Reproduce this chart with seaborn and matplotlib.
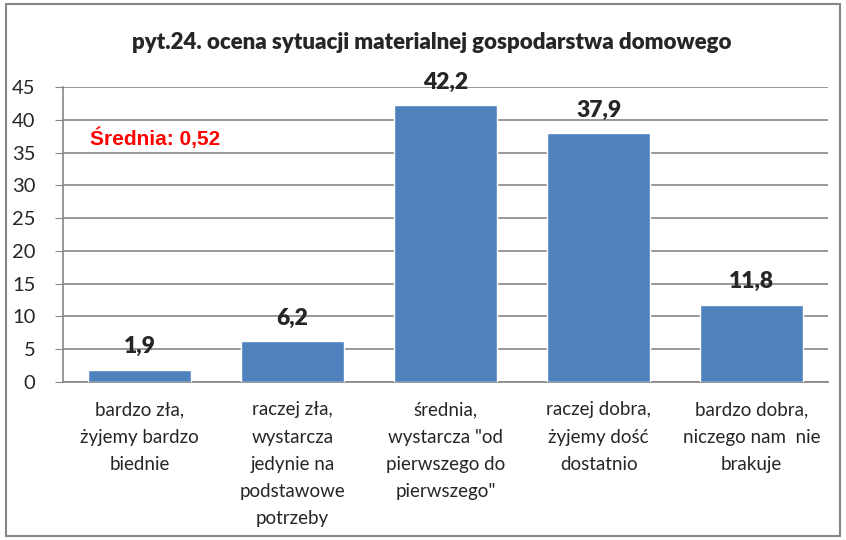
import matplotlib
matplotlib.use("Agg")
import matplotlib.pyplot as plt
import matplotlib.patches as mpatches
import seaborn as sns
import pandas as pd

categories = [
    "bardzo zła,\nżyjemy bardzo\nbiednie",
    "raczej zła,\nwystarcza\njedynie na\npodstawowe\npotrzeby",
    "średnia,\nwystarcza \"od\npierwszego do\npierwszego\"",
    "raczej dobra,\nżyjemy dość\ndostatnio",
    "bardzo dobra,\nniczego nam  nie\nbrakuje",
]
values = [1.9, 6.2, 42.2, 37.9, 11.8]
value_labels = ["1,9", "6,2", "42,2", "37,9", "11,8"]
title = "pyt.24. ocena sytuacji materialnej gospodarstwa domowego"
mean_text = "Średnia: 0,52"

df = pd.DataFrame({"kategoria": categories, "procent": values})

sns.set_style("white")
plt.rcParams["font.family"] = ["Lato", "DejaVu Sans"]

fig = plt.figure(figsize=(8.46, 5.40), dpi=100)
ax = fig.add_axes([0.0745, 0.2926, 0.9045, 0.5464])

sns.barplot(data=df, x="kategoria", y="procent", color="#4F81BD", saturation=1,
            width=0.67, ax=ax, zorder=3)

ax.set_ylim(0, 45)
ax.set_xlim(-0.5, 4.5)
ax.set_yticks(range(0, 46, 5))
ax.yaxis.grid(True, color="#868686", linewidth=1.2, zorder=0)
ax.set_axisbelow(True)
ax.set_xlabel("")
ax.set_ylabel("")
for s in ["top", "right"]:
    ax.spines[s].set_visible(False)
for s in ["left", "bottom"]:
    ax.spines[s].set_color("#868686")
    ax.spines[s].set_linewidth(1.2)
ax.tick_params(axis="y", length=6, color="#868686", labelsize=14.5, pad=14, left=True)
ax.tick_params(axis="x", length=0, labelsize=13.5, pad=14)
for lbl in ax.get_xticklabels():
    lbl.set_linespacing(1.72)

for i, (v, t) in enumerate(zip(values, value_labels)):
    ax.annotate(t, (i, v), xytext=(0, 9), textcoords="offset points",
                ha="center", va="bottom", fontsize=16.5, fontweight=800)

ax.text(0.035, 0.827, mean_text, transform=ax.transAxes, color="#FF0000",
        fontsize=15, fontweight="bold", family=["Liberation Sans", "DejaVu Sans"],
        ha="left", va="center")

fig.text(0.51, 0.922, title, ha="center", va="center", fontsize=16, fontweight=800)

fig.patches.append(mpatches.Rectangle((0.007, 0.007), 0.986, 0.986, transform=fig.transFigure,
                                      fill=False, edgecolor="#868686", linewidth=1.5))

fig.savefig("out.png", dpi=100)
